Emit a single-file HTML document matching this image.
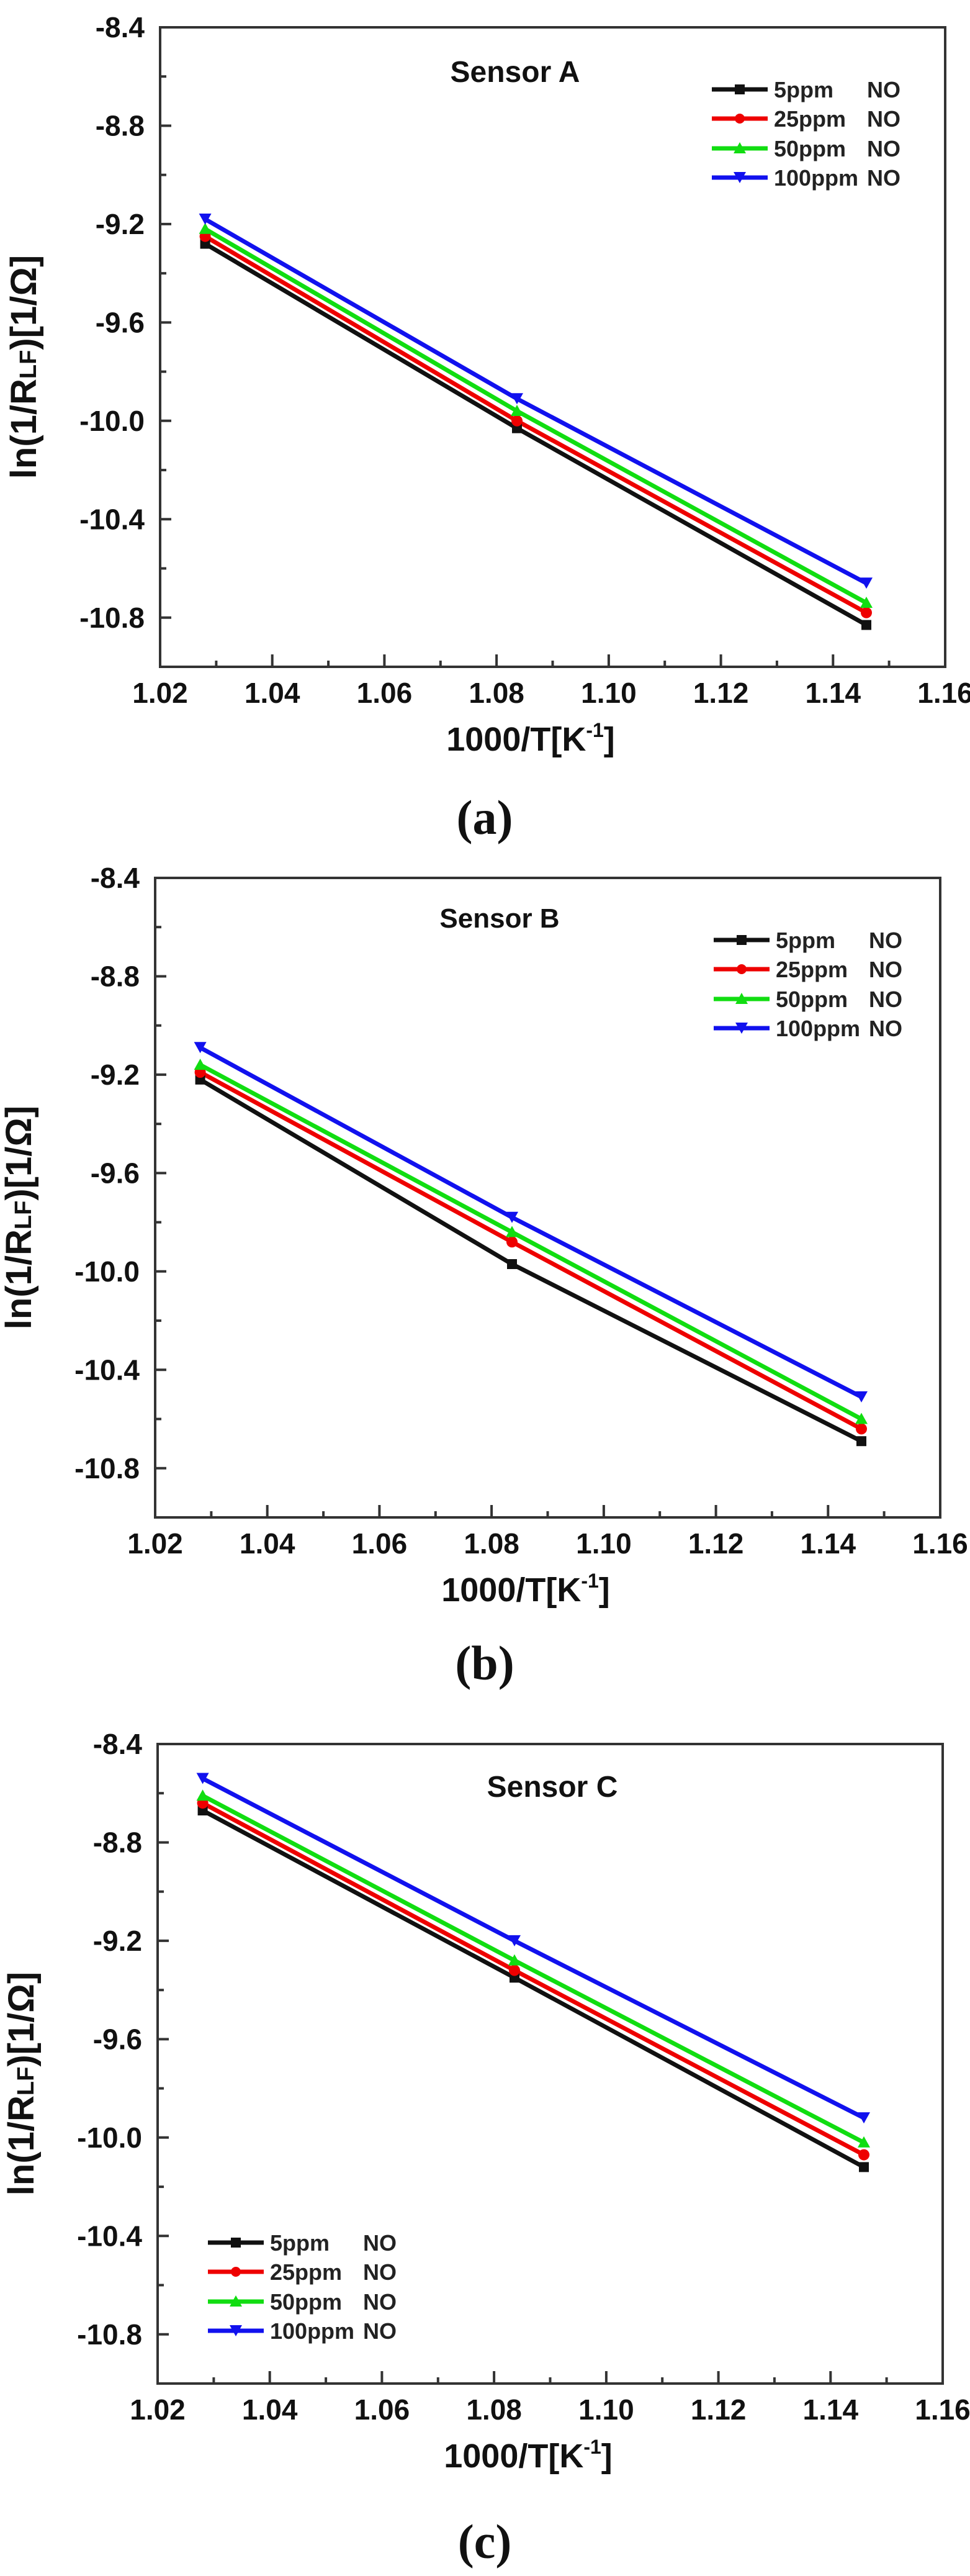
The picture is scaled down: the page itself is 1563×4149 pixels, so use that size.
<!DOCTYPE html>
<html><head><meta charset="utf-8"><style>
html,body{margin:0;padding:0;background:#fff;}
svg{display:block;}
text{font-family:"Liberation Sans",Arial,sans-serif;font-weight:bold;fill:#111;}
.tk{font-size:46px;}
.lg{font-size:36px;fill:#222;}
.cap{font-family:"Liberation Serif","Times New Roman",serif;font-size:78px;font-weight:bold;}
</style></head><body>
<svg width="1563" height="4149" viewBox="0 0 1563 4149" xmlns="http://www.w3.org/2000/svg">
<defs>
<g id="axes">
  <rect x="0" y="0" width="1265" height="1030" fill="none" stroke="#333" stroke-width="4"/>
  <g stroke="#333" stroke-width="4">
    <line x1="0" y1="158.5" x2="18" y2="158.5"/><line x1="0" y1="316.9" x2="18" y2="316.9"/><line x1="0" y1="475.4" x2="18" y2="475.4"/><line x1="0" y1="633.8" x2="18" y2="633.8"/><line x1="0" y1="792.3" x2="18" y2="792.3"/><line x1="0" y1="950.8" x2="18" y2="950.8"/>
    <line x1="0" y1="79.2" x2="10" y2="79.2"/><line x1="0" y1="237.7" x2="10" y2="237.7"/><line x1="0" y1="396.2" x2="10" y2="396.2"/><line x1="0" y1="554.6" x2="10" y2="554.6"/><line x1="0" y1="713.1" x2="10" y2="713.1"/><line x1="0" y1="871.5" x2="10" y2="871.5"/>
    <line x1="180.7" y1="1030" x2="180.7" y2="1010"/><line x1="361.4" y1="1030" x2="361.4" y2="1010"/><line x1="542.1" y1="1030" x2="542.1" y2="1010"/><line x1="722.9" y1="1030" x2="722.9" y2="1010"/><line x1="903.6" y1="1030" x2="903.6" y2="1010"/><line x1="1084.3" y1="1030" x2="1084.3" y2="1010"/>
    <line x1="90.4" y1="1030" x2="90.4" y2="1020"/><line x1="271.1" y1="1030" x2="271.1" y2="1020"/><line x1="451.8" y1="1030" x2="451.8" y2="1020"/><line x1="632.5" y1="1030" x2="632.5" y2="1020"/><line x1="813.2" y1="1030" x2="813.2" y2="1020"/><line x1="993.9" y1="1030" x2="993.9" y2="1020"/><line x1="1174.6" y1="1030" x2="1174.6" y2="1020"/>
  </g>
  <g class="tk" text-anchor="end">
    <text class="tk" x="-25" y="16">-8.4</text><text class="tk" x="-25" y="174.5">-8.8</text><text class="tk" x="-25" y="333">-9.2</text><text class="tk" x="-25" y="491.4">-9.6</text><text class="tk" x="-25" y="650">-10.0</text><text class="tk" x="-25" y="808.3">-10.4</text><text class="tk" x="-25" y="966.8">-10.8</text>
  </g>
  <g text-anchor="middle">
    <text class="tk" x="0" y="1088">1.02</text><text class="tk" x="180.7" y="1088">1.04</text><text class="tk" x="361.4" y="1088">1.06</text><text class="tk" x="542.1" y="1088">1.08</text><text class="tk" x="722.9" y="1088">1.10</text><text class="tk" x="903.6" y="1088">1.12</text><text class="tk" x="1084.3" y="1088">1.14</text><text class="tk" x="1265" y="1088">1.16</text>
  </g>
  <text x="597" y="1165" text-anchor="middle" style="font-size:54px">1000/T[K<tspan dy="-22" style="font-size:32px">-1</tspan><tspan dy="22">]</tspan></text>
  <text transform="translate(-200,547) rotate(-90)" text-anchor="middle" style="font-size:58px">ln(1/R<tspan style="font-size:38px">LF</tspan>)[1/Ω]</text>
</g>
<g id="legend">
  <line x1="0" y1="0" x2="90" y2="0" stroke="#111" stroke-width="7"/><rect x="37" y="-8" width="16" height="16" fill="#111"/>
  <text class="lg" x="100" y="13">5ppm</text><text class="lg" x="250" y="13">NO</text>
  <line x1="0" y1="47" x2="90" y2="47" stroke="#e00" stroke-width="7"/><circle cx="45" cy="47" r="8" fill="#e00"/>
  <text class="lg" x="100" y="60">25ppm</text><text class="lg" x="250" y="60">NO</text>
  <line x1="0" y1="95" x2="90" y2="95" stroke="#1d1" stroke-width="7"/><polygon points="45,85 55,103 35,103" fill="#1d1"/>
  <text class="lg" x="100" y="108">50ppm</text><text class="lg" x="250" y="108">NO</text>
  <line x1="0" y1="142" x2="90" y2="142" stroke="#11e" stroke-width="7"/><polygon points="35,133 55,133 45,151" fill="#11e"/>
  <text class="lg" x="100" y="155">100ppm</text><text class="lg" x="250" y="155">NO</text>
</g>
</defs>

<!-- Panel A -->
<g transform="translate(258,44)">
  <use href="#axes"/>
  <text x="572" y="88" text-anchor="middle" style="font-size:48px">Sensor A</text>
  <g transform="translate(889,100)"><use href="#legend"/></g>
  <g fill="none" stroke-width="7">
    <polyline points="72.6,348.6 575,645.7 1138,962.6" stroke="#111"/>
    <polyline points="72.6,336.7 575,633.8 1138,942.8" stroke="#e00"/>
    <polyline points="72.6,324.8 575,618 1138,927" stroke="#1d1"/>
    <polyline points="72.6,309 575,598.2 1138,895.3" stroke="#11e"/>
  </g>
  <g fill="#111"><rect x="64.6" y="340.6" width="16" height="16"/><rect x="567" y="637.7" width="16" height="16"/><rect x="1130" y="954.6" width="16" height="16"/></g>
  <g fill="#e00"><circle cx="72.6" cy="336.7" r="9"/><circle cx="575" cy="633.8" r="9"/><circle cx="1138" cy="942.8" r="9"/></g>
  <g fill="#1d1"><polygon points="72.6,314.8 82.6,332.8 62.6,332.8"/><polygon points="575,608 585,626 565,626"/><polygon points="1138,917 1148,935 1128,935"/></g>
  <g fill="#11e"><polygon points="62.6,300 82.6,300 72.6,318"/><polygon points="565,589.2 585,589.2 575,607.2"/><polygon points="1128,886.3 1148,886.3 1138,904.3"/></g>
</g>
<text class="cap" x="781" y="1343" text-anchor="middle">(<tspan>a</tspan>)</text>

<!-- Panel B -->
<g transform="translate(250,1414)">
  <use href="#axes"/>
  <text x="555" y="80" text-anchor="middle" style="font-size:44px">Sensor B</text>
  <g transform="translate(900,100)"><use href="#legend"/></g>
  <g fill="none" stroke-width="7">
    <polyline points="72.6,324.8 575,622 1138,907.2" stroke="#111"/>
    <polyline points="72.6,313 575,586.3 1138,887.4" stroke="#e00"/>
    <polyline points="72.6,301.1 575,570.5 1138,871.5" stroke="#1d1"/>
    <polyline points="72.6,273.3 575,546.7 1138,835.9" stroke="#11e"/>
  </g>
  <g fill="#111"><rect x="64.6" y="316.8" width="16" height="16"/><rect x="567" y="614" width="16" height="16"/><rect x="1130" y="899.2" width="16" height="16"/></g>
  <g fill="#e00"><circle cx="72.6" cy="313" r="9"/><circle cx="575" cy="586.3" r="9"/><circle cx="1138" cy="887.4" r="9"/></g>
  <g fill="#1d1"><polygon points="72.6,291.1 82.6,309.1 62.6,309.1"/><polygon points="575,560.5 585,578.5 565,578.5"/><polygon points="1138,861.5 1148,879.5 1128,879.5"/></g>
  <g fill="#11e"><polygon points="62.6,264.3 82.6,264.3 72.6,282.3"/><polygon points="565,537.7 585,537.7 575,555.7"/><polygon points="1128,826.9 1148,826.9 1138,844.9"/></g>
</g>
<text class="cap" x="781" y="2705" text-anchor="middle">(<tspan>b</tspan>)</text>

<!-- Panel C -->
<g transform="translate(254,2809)">
  <use href="#axes"/>
  <text x="636" y="85" text-anchor="middle" style="font-size:48px">Sensor C</text>
  <g transform="translate(81,803)"><use href="#legend"/></g>
  <g fill="none" stroke-width="7">
    <polyline points="72.6,107 575,376.3 1138,681.4" stroke="#111"/>
    <polyline points="72.6,95.1 575,364.5 1138,661.6" stroke="#e00"/>
    <polyline points="72.6,83.2 575,348.6 1138,641.8" stroke="#1d1"/>
    <polyline points="72.6,55.5 575,316.9 1138,602.1" stroke="#11e"/>
  </g>
  <g fill="#111"><rect x="64.6" y="99" width="16" height="16"/><rect x="567" y="368.3" width="16" height="16"/><rect x="1130" y="673.4" width="16" height="16"/></g>
  <g fill="#e00"><circle cx="72.6" cy="95.1" r="9"/><circle cx="575" cy="364.5" r="9"/><circle cx="1138" cy="661.6" r="9"/></g>
  <g fill="#1d1"><polygon points="72.6,73.2 82.6,91.2 62.6,91.2"/><polygon points="575,338.6 585,356.6 565,356.6"/><polygon points="1138,631.8 1148,649.8 1128,649.8"/></g>
  <g fill="#11e"><polygon points="62.6,46.5 82.6,46.5 72.6,64.5"/><polygon points="565,307.9 585,307.9 575,325.9"/><polygon points="1128,593.1 1148,593.1 1138,611.1"/></g>
</g>
<text class="cap" x="781" y="4120" text-anchor="middle">(<tspan>c</tspan>)</text>
</svg>
</body></html>
